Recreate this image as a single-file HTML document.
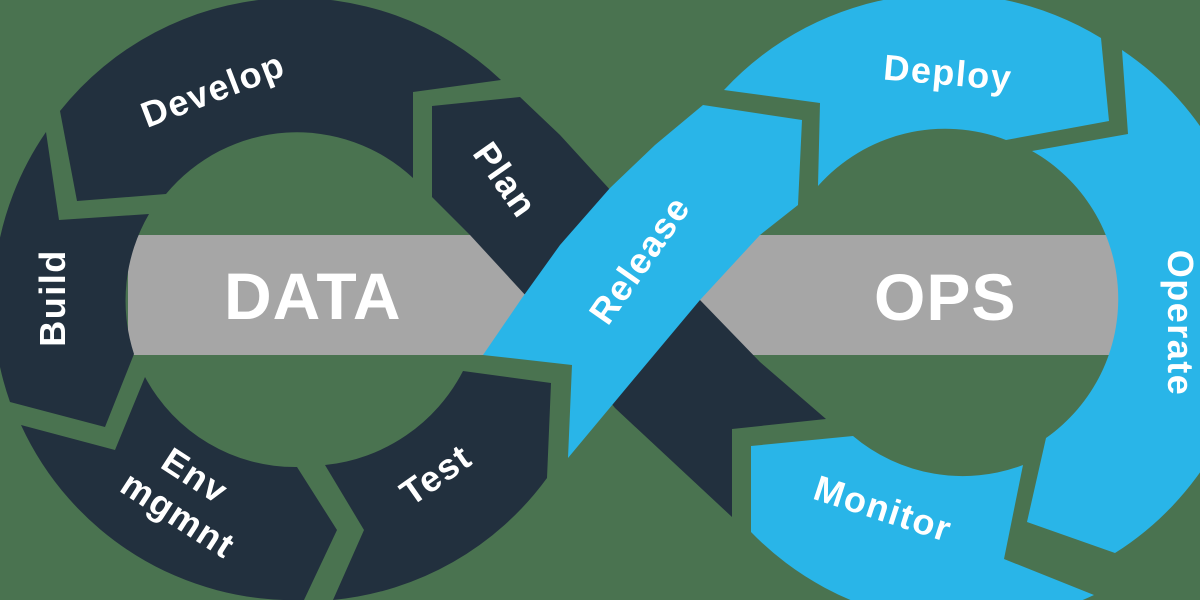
<!DOCTYPE html>
<html><head><meta charset="utf-8"><style>
html,body{margin:0;padding:0;background:#4a7350;}
svg{display:block}
text{font-family:"Liberation Sans",sans-serif;font-weight:bold;fill:#fff;}
</style></head><body>
<svg width="1200" height="600" viewBox="0 0 1200 600" xmlns="http://www.w3.org/2000/svg">
<rect width="1200" height="600" fill="#4a7350"/>
<rect x="128" y="235" width="998" height="120" fill="#a6a6a6"/>
<g fill="#22303e">
<path d="M60,111 A300,300 0 0 1 501,80 L413,92 L413,178 A170,170 0 0 0 166,194 L77,201 Z"/>
<path d="M46,132 L59,220 L149,214 A172,172 0 0 0 134,354 L105,427 L10,402 A300,300 0 0 1 46,132 Z"/>
<path d="M21,425 L115,450 L145,377 A170,170 0 0 0 297,467 L337,530 L304,600 A300,300 0 0 1 21,425 Z"/>
<path d="M325,465 L364,530 L333,600 A300,300 0 0 0 547,478 L551,383 L463,371 A175,175 0 0 1 325,465 Z"/>
<path d="M432,106 L520,97 L560,135 L613,193 L700,300 L760,362 L826,419 L732,429 L732,517 L615,408 L527,297 L470,235 L432,197 Z"/>
</g>
<g fill="#29b5e8">
<path d="M724,90 A300,300 0 0 1 1101,38 L1109,121 L1006,140 A170,170 0 0 0 818,186 L820,103 Z"/>
<path d="M1122,50 A300,300 0 0 1 1115,553 L1027,522 L1046,438 A170,170 0 0 0 1032,151 L1128,134 Z"/>
<path d="M1094,595 A300,300 0 0 1 751,532 L751,446 L853,436 A170,170 0 0 0 1023,465 L1004,559 Z"/>
<path d="M703,105 L802,120 L798,205 L760,235 L700,300 L633,380 L568,458 L572,365 L483,355 L522,298 L560,245 L610,188 L655,145 Z"/>
</g>
<text x="224" y="319" font-size="66" letter-spacing="1">DATA</text>
<text x="874" y="320" font-size="66" letter-spacing="1">OPS</text>
<g font-size="36" text-anchor="middle" letter-spacing="1.5">
<text transform="translate(213,90) rotate(-21)" dy="12">Develop</text>
<text transform="translate(505,180) rotate(55)" dy="12">Plan</text>
<text transform="translate(53,298) rotate(-90)" dy="12">Build</text>
<text transform="translate(195,476) rotate(33)" dy="12">Env</text>
<text transform="translate(178,515) rotate(33)" dy="12">mgmnt</text>
<text transform="translate(436,475) rotate(-35)" dy="12">Test</text>
<text transform="translate(640,260) rotate(-55)" dy="12">Release</text>
<text transform="translate(948,73) rotate(5)" dy="12">Deploy</text>
<text transform="translate(1180,323) rotate(90)" dy="12">Operate</text>
<text transform="translate(883,509) rotate(18)" dy="12">Monitor</text>
</g>
</svg>
</body></html>
